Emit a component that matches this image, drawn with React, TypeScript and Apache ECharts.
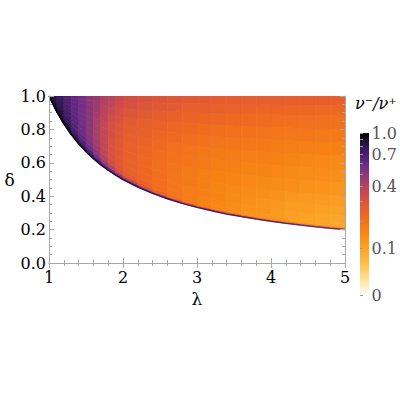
import { useEffect, useRef } from "react";
import * as echarts from "echarts";

// column edges in lambda (finer near lambda = 1 where the field changes fast)
const lambdaEdges = [
  1.0, 1.1, 1.2, 1.3, 1.4, 1.5, 1.6, 1.7, 1.8, 1.9, 2.0,
  2.2, 2.4, 2.6, 2.8, 3.0, 3.2, 3.4, 3.6, 3.8, 4.0, 4.2, 4.4, 4.6, 4.8, 5.0,
];
// lower edge of the coloured region at each lambda edge
const edgeDelta = [
  1.0, 0.909, 0.833, 0.769, 0.714, 0.667, 0.625, 0.588, 0.556, 0.526, 0.5,
  0.455, 0.417, 0.385, 0.357, 0.333, 0.3125, 0.294, 0.278, 0.263, 0.25, 0.238,
  0.227, 0.217, 0.208, 0.2,
];
// rows: fraction of the way from the lower edge up to delta = 1
const rowFractions = [0, 0.02, 0.05, 0.1, 0.17, 0.25, 0.35, 0.45, 0.55, 0.65, 0.75, 0.85, 0.93, 1];

// v-/v+ per column, from the lower edge upward to delta = 1
const ratioColumns = [
  [0.95, 0.92, 0.92, 0.9, 0.9, 0.88, 0.88, 0.88, 0.85, 0.85, 0.85, 0.85, 0.85],
  [0.99, 0.98, 0.95, 0.92, 0.89, 0.87, 0.84, 0.82, 0.81, 0.8, 0.79, 0.79, 0.78],
  [0.99, 0.95, 0.9, 0.85, 0.8, 0.76, 0.73, 0.72, 0.71, 0.7, 0.69, 0.69, 0.69],
  [0.97, 0.91, 0.83, 0.76, 0.7, 0.66, 0.64, 0.63, 0.62, 0.62, 0.62, 0.61, 0.61],
  [0.95, 0.86, 0.76, 0.67, 0.61, 0.58, 0.57, 0.56, 0.56, 0.56, 0.56, 0.56, 0.56],
  [0.93, 0.8, 0.67, 0.57, 0.53, 0.51, 0.5, 0.5, 0.5, 0.5, 0.5, 0.5, 0.5],
  [0.89, 0.72, 0.57, 0.49, 0.45, 0.44, 0.43, 0.43, 0.43, 0.44, 0.45, 0.46, 0.47],
  [0.84, 0.61, 0.46, 0.39, 0.37, 0.36, 0.36, 0.36, 0.36, 0.38, 0.39, 0.4, 0.41],
  [0.79, 0.53, 0.38, 0.33, 0.31, 0.31, 0.31, 0.32, 0.32, 0.33, 0.35, 0.37, 0.39],
  [0.73, 0.45, 0.32, 0.285, 0.28, 0.28, 0.28, 0.285, 0.29, 0.305, 0.32, 0.34, 0.355],
  [0.65, 0.36, 0.27, 0.25, 0.25, 0.25, 0.25, 0.255, 0.26, 0.27, 0.29, 0.31, 0.32],
  [0.55, 0.29, 0.24, 0.23, 0.23, 0.23, 0.235, 0.24, 0.25, 0.26, 0.27, 0.29, 0.305],
  [0.46, 0.24, 0.21, 0.21, 0.21, 0.21, 0.215, 0.22, 0.23, 0.245, 0.26, 0.275, 0.29],
  [0.4, 0.205, 0.19, 0.19, 0.19, 0.195, 0.2, 0.205, 0.22, 0.23, 0.25, 0.27, 0.28],
  [0.335, 0.18, 0.175, 0.175, 0.18, 0.18, 0.19, 0.195, 0.21, 0.225, 0.24, 0.26, 0.275],
  [0.28, 0.165, 0.16, 0.165, 0.165, 0.17, 0.18, 0.185, 0.2, 0.215, 0.235, 0.255, 0.27],
  [0.24, 0.15, 0.15, 0.155, 0.155, 0.16, 0.17, 0.18, 0.195, 0.21, 0.23, 0.25, 0.265],
  [0.21, 0.14, 0.14, 0.145, 0.145, 0.155, 0.165, 0.175, 0.19, 0.205, 0.225, 0.245, 0.265],
  [0.19, 0.125, 0.13, 0.135, 0.14, 0.15, 0.16, 0.17, 0.185, 0.2, 0.22, 0.24, 0.26],
  [0.165, 0.12, 0.125, 0.125, 0.135, 0.145, 0.155, 0.165, 0.18, 0.195, 0.215, 0.235, 0.26],
  [0.155, 0.115, 0.115, 0.12, 0.13, 0.14, 0.15, 0.16, 0.175, 0.19, 0.21, 0.235, 0.26],
  [0.15, 0.105, 0.105, 0.11, 0.12, 0.135, 0.145, 0.155, 0.17, 0.185, 0.21, 0.23, 0.255],
  [0.14, 0.1, 0.1, 0.11, 0.115, 0.13, 0.14, 0.15, 0.165, 0.185, 0.205, 0.23, 0.255],
  [0.135, 0.097, 0.098, 0.104, 0.114, 0.128, 0.138, 0.149, 0.164, 0.182, 0.203, 0.227, 0.256],
  [0.13, 0.093, 0.095, 0.102, 0.11, 0.125, 0.135, 0.145, 0.161, 0.18, 0.201, 0.226, 0.256],
];

const legendTicks = [0, 0.1, 0.4, 0.7, 1.0];
const legendTickLabels = ["0", "0.1", "0.4", "0.7", "1.0"];
const legendMinorTicks = [0, 0.1, 0.2, 0.3, 0.4, 0.5, 0.6, 0.7, 0.8, 0.9, 1.0];

// reversed sunset palette, evenly spaced over the scaled colour axis
const sunset = [
  "#ffffff", "#fde194", "#fcbe46", "#faa022", "#f78214", "#ee6622",
  "#d44e44", "#a63e68", "#6c2c88", "#3a1a62", "#000000",
];

// colour scaling of the legend (non-linear)
const colorScale = (v: number) => Math.log(1 + 10 * v) / Math.log(11);

const serif = "DejaVu Serif";

export default function App() {
  const chartRef = useRef<HTMLDivElement>(null);

  useEffect(() => {
    if (!chartRef.current) return;
    const chart = echarts.init(chartRef.current, undefined, { renderer: "svg" });

    const cells: number[][] = [];
    ratioColumns.forEach((col, i) => {
      col.forEach((v, j) => {
        cells.push([
          lambdaEdges[i],
          lambdaEdges[i + 1],
          edgeDelta[i],
          edgeDelta[i + 1],
          rowFractions[j],
          rowFractions[j + 1],
          v,
          colorScale(v),
        ]);
      });
    });

    const frameLine = { show: true, lineStyle: { color: "#a8a8a8", width: 1 } };
    const tickStyle = { color: "#a8a8a8", width: 1 };
    const labelStyle = { fontFamily: serif, fontSize: 16, color: "#000" };

    const xBase = {
      type: "value" as const,
      gridIndex: 0,
      min: 1,
      max: 5,
      interval: 1,
      z: 10,
      axisLine: frameLine,
      axisTick: { show: true, inside: true, length: 5, lineStyle: tickStyle },
      minorTick: { show: true, splitNumber: 5, length: 3, lineStyle: tickStyle },
      splitLine: { show: false },
    };
    const yBase = {
      type: "value" as const,
      gridIndex: 0,
      min: 0,
      max: 1,
      interval: 0.2,
      z: 10,
      axisLine: frameLine,
      axisTick: { show: true, inside: true, length: 5, lineStyle: tickStyle },
      minorTick: { show: true, splitNumber: 4, length: 3, lineStyle: tickStyle },
      splitLine: { show: false },
    };

    const legendPos = legendTicks.map(colorScale);

    chart.setOption({
      animation: false,
      textStyle: { fontFamily: serif },
      grid: [
        { left: 49, top: 96, width: 296, height: 167 },
        { left: 360, top: 133, width: 9, height: 162 },
      ],
      xAxis: [
        {
          ...xBase,
          position: "bottom",
          axisLabel: { ...labelStyle, margin: 6 },
          name: "λ",
          nameLocation: "middle",
          nameGap: 27,
          nameTextStyle: { ...labelStyle, fontSize: 17 },
        },
        { ...xBase, position: "top", axisLabel: { show: false } },
        { type: "value", gridIndex: 1, min: 0, max: 1, show: false },
      ],
      yAxis: [
        {
          ...yBase,
          position: "left",
          axisLabel: {
            ...labelStyle,
            margin: 3,
            formatter: (v: number) => v.toFixed(1),
          },
          name: "δ",
          nameLocation: "middle",
          nameRotate: 0,
          nameGap: 38,
          nameTextStyle: { ...labelStyle, fontSize: 17, align: "center" },
        },
        { ...yBase, position: "right", axisLabel: { show: false } },
        {
          type: "value",
          gridIndex: 1,
          min: 0,
          max: 1,
          position: "right",
          axisLine: { show: false },
          splitLine: { show: false },
          axisTick: {
            show: true,
            length: 3,
            customValues: legendMinorTicks.map(colorScale),
            lineStyle: { color: "#999" },
          },
          axisLabel: {
            fontFamily: serif,
            fontSize: 16,
            color: "#555",
            margin: 4,
            customValues: legendPos,
            formatter: (val: number) => {
              let best = 0;
              legendPos.forEach((p, k) => {
                if (Math.abs(p - val) < Math.abs(legendPos[best] - val)) best = k;
              });
              return legendTickLabels[best];
            },
          },
        },
      ],
      visualMap: {
        show: false,
        type: "continuous",
        min: 0,
        max: 1,
        dimension: 7,
        seriesIndex: 0,
        inRange: { color: sunset },
      },
      graphic: [
        {
          type: "rect",
          left: 360,
          top: 133,
          shape: { width: 9, height: 162 },
          style: {
            fill: {
              type: "linear",
              x: 0,
              y: 1,
              x2: 0,
              y2: 0,
              colorStops: sunset.map((c, i) => ({ offset: i / (sunset.length - 1), color: c })),
            },
          },
        },
        {
          type: "text",
          left: 355,
          top: 95,
          style: {
            text: "ν⁻/ν⁺",
            fontFamily: serif,
            fontStyle: "italic",
            fontSize: 16,
            fill: "#000",
          },
        },
      ],
      series: [
        {
          type: "custom",
          xAxisIndex: 0,
          yAxisIndex: 0,
          clip: true,
          data: cells,
          renderItem: (_params: any, api: any) => {
            const l0 = api.value(0);
            const l1 = api.value(1);
            const b0 = api.value(2);
            const b1 = api.value(3);
            const s0 = api.value(4);
            const s1 = api.value(5);
            const color = api.visual("color");
            return {
              type: "polygon",
              shape: {
                points: [
                  api.coord([l0, b0 + s0 * (1 - b0)]),
                  api.coord([l1, b1 + s0 * (1 - b1)]),
                  api.coord([l1, b1 + s1 * (1 - b1)]),
                  api.coord([l0, b0 + s1 * (1 - b0)]),
                ],
              },
              style: { fill: color, stroke: color, lineWidth: 0.7 },
            };
          },
        },
        {
          type: "line",
          xAxisIndex: 0,
          yAxisIndex: 0,
          data: lambdaEdges.map((l, i) => [l, edgeDelta[i]]),
          showSymbol: false,
          symbol: "none",
          lineStyle: {
            width: 1.5,
            color: {
              type: "linear",
              x: 0,
              y: 0,
              x2: 1,
              y2: 0,
              colorStops: [
                { offset: 0, color: "#000" },
                { offset: 0.25, color: "#2e1550" },
                { offset: 1, color: "#6c2c88" },
              ],
            },
          },
        },
      ],
    });

    return () => {
      chart.dispose();
    };
  }, []);

  return (
    <div
      ref={chartRef}
      style={{ position: "absolute", left: 0, top: 0, width: 400, height: 400 }}
    />
  );
}
